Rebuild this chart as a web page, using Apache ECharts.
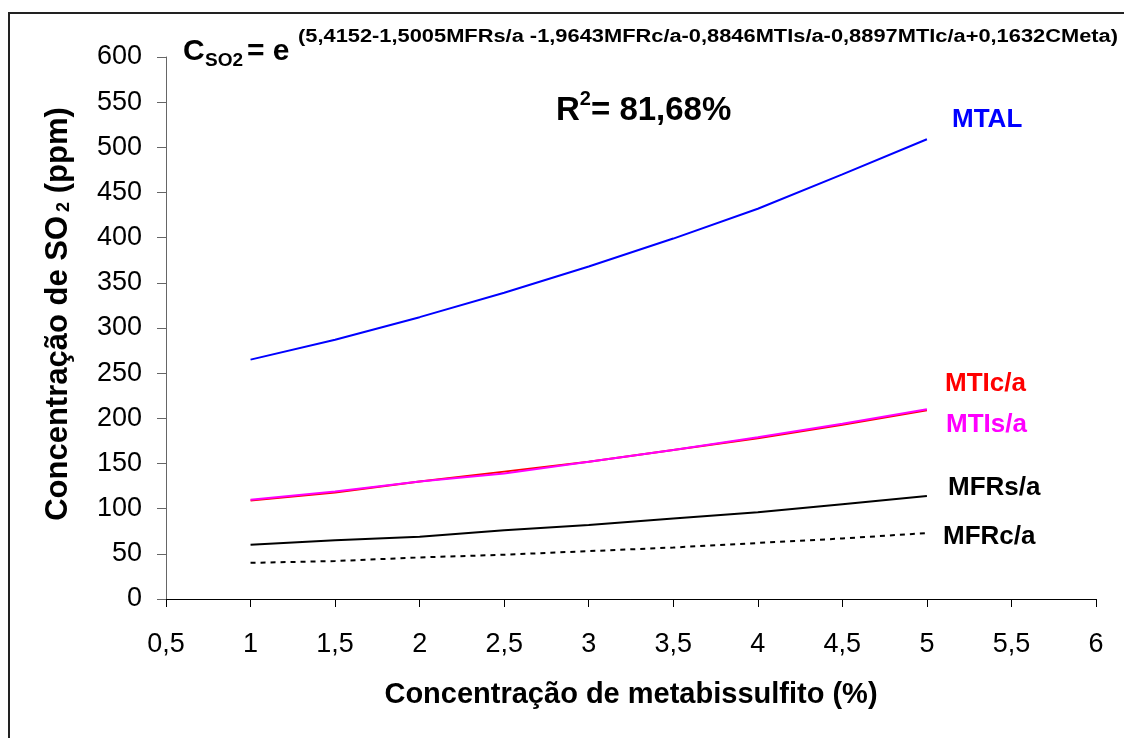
<!DOCTYPE html>
<html><head><meta charset="utf-8">
<script src="https://cdn.jsdelivr.net/npm/echarts@6/dist/echarts.min.js"></script>
<style>html,body{margin:0;padding:0;background:#fff}#c{width:1124px;height:738px}</style>
</head><body><div id="c"></div>
<script>
const xVals = [1, 1.5, 2, 2.5, 3, 3.5, 4, 4.5, 5];
const mtal  = [265, 287, 312, 339, 368, 399, 432, 470, 509];
const mtica = [109, 118, 130, 141, 152, 165, 178, 193, 209];
const mtisa = [110, 119, 130, 139, 152, 165, 179, 194, 210];
const mfrsa = [60, 65, 69, 76, 82, 89, 96, 105, 114];
const mfrca = [40, 42, 46, 49, 53, 57, 62, 67, 73];
const seriesNames = ['MTAL', 'MTIc/a', 'MTIs/a', 'MFRs/a', 'MFRc/a'];
const xTicks = { min: 0.5, max: 6, interval: 0.5 };
const yTicks = { min: 0, max: 600, interval: 50 };
const exponentText = '(5,4152-1,5005MFRs/a -1,9643MFRc/a-0,8846MTIs/a-0,8897MTIc/a+0,1632CMeta)';

const pair = arr => xVals.map((x, i) => [x, arr[i]]);
const chart = echarts.init(document.getElementById('c'));
const F = 'Liberation Sans, Arial, sans-serif';

function measure(text, font) {
  const cv = document.createElement('canvas').getContext('2d');
  cv.font = font;
  return cv.measureText(text).width;
}
const expFont = 'bold 18px Liberation Sans';
const expScale = 820 / measure(exponentText, expFont);

const mk = (name, arr, color, type) => ({
  name, type: 'line', data: pair(arr), showSymbol: false, smooth: false,
  lineStyle: { color, width: 2, type: type || 'solid' }, itemStyle: { color }, z: 3
});
const lbl = (x, y, text, color) => ({ type: 'text', x, y,
  style: { text, fontFamily: F, fontWeight: 'bold', fontSize: 26, fill: color, verticalAlign: 'middle' } });

chart.setOption({
  animation: false,
  grid: { left: 166, right: 28, top: 57, bottom: 139 },
  xAxis: {
    type: 'value', min: xTicks.min, max: xTicks.max, interval: xTicks.interval,
    name: 'Concentração de metabissulfito (%)', nameLocation: 'middle', nameGap: 81,
    nameTextStyle: { fontFamily: F, fontWeight: 'bold', fontSize: 29, color: '#000' },
    axisLine: { lineStyle: { color: '#000', width: 1 } },
    axisTick: { show: true, length: 8, lineStyle: { color: '#000' } },
    axisLabel: { fontFamily: F, fontSize: 27, color: '#000', margin: 32,
      formatter: v => String(v).replace('.', ',') },
    splitLine: { show: false }
  },
  yAxis: {
    type: 'value', min: yTicks.min, max: yTicks.max, interval: yTicks.interval,
    axisLine: { show: true, lineStyle: { color: '#666', width: 1 } },
    axisTick: { show: true, length: 9, lineStyle: { color: '#666' } },
    axisLabel: { fontFamily: F, fontSize: 27, color: '#000', margin: 24 },
    splitLine: { show: false }
  },
  series: [
    mk(seriesNames[0], mtal, '#0000ff'),
    mk(seriesNames[1], mtica, '#ff0000'),
    mk(seriesNames[2], mtisa, '#ff00ff'),
    mk(seriesNames[3], mfrsa, '#000000'),
    mk(seriesNames[4], mfrca, '#000000', [5, 5])
  ],
  graphic: [
    { type: 'rect', shape: { x: 9, y: 13, width: 1200, height: 800 },
      style: { fill: 'none', stroke: '#222', lineWidth: 2 }, z: 0 },
    { type: 'text', x: 58, y: 314, rotation: Math.PI / 2,
      style: { text: '{a|Concentração de SO}{s|2}{a| (ppm)}', align: 'center', verticalAlign: 'middle',
        rich: { a: { fontFamily: F, fontWeight: 'bold', fontSize: 31, fill: '#000' },
                s: { fontFamily: F, fontWeight: 'bold', fontSize: 18, fill: '#000', padding: [12, 0, 0, 4] } } } },
    { type: 'text', x: 183, y: 52, style: { text: 'C', fontFamily: F, fontWeight: 'bold', fontSize: 30, fill: '#000', verticalAlign: 'middle' } },
    { type: 'text', x: 205, y: 61, style: { text: 'SO2', fontFamily: F, fontWeight: 'bold', fontSize: 19, fill: '#000', verticalAlign: 'middle' } },
    { type: 'text', x: 247, y: 52, style: { text: '= e', fontFamily: F, fontWeight: 'bold', fontSize: 30, fill: '#000', verticalAlign: 'middle' } },
    { type: 'text', x: 298, y: 37, scaleX: expScale, style: { text: exponentText, font: expFont, fill: '#000', verticalAlign: 'middle' } },
    { type: 'text', x: 556, y: 105,
      style: { text: '{r|R}{p|2}{r|= 81,68%}', verticalAlign: 'middle',
        rich: { r: { fontFamily: F, fontWeight: 'bold', fontSize: 33, fill: '#000', padding: [12, 0, 0, 0] },
                p: { fontFamily: F, fontWeight: 'bold', fontSize: 20, fill: '#000', padding: [0, 0, 12, 0] } } } },
    lbl(952, 120, seriesNames[0], '#0000ff'),
    lbl(945, 384, seriesNames[1], '#ff0000'),
    lbl(946, 425, seriesNames[2], '#ff00ff'),
    lbl(948, 488, seriesNames[3], '#000'),
    lbl(943, 537, seriesNames[4], '#000')
  ]
});
</script></body></html>
